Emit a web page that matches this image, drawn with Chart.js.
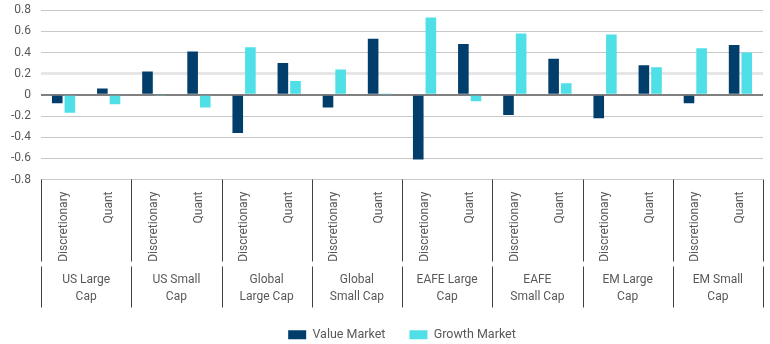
<!DOCTYPE html>
<html>
<head>
<meta charset="utf-8">
<script src="https://cdn.jsdelivr.net/npm/chart.js@4.4.1/dist/chart.umd.min.js"></script>
<style>
  html, body { margin: 0; padding: 0; background: #fff; }
  #wrap { width: 770px; height: 344px; }
</style>
</head>
<body>
<div id="wrap"><canvas id="chart"></canvas></div>
<script>
const groups = [
  ['US Large', 'Cap'], ['US Small', 'Cap'], ['Global', 'Large Cap'], ['Global', 'Small Cap'],
  ['EAFE Large', 'Cap'], ['EAFE', 'Small Cap'], ['EM Large', 'Cap'], ['EM Small', 'Cap']
];
const styles = ['Discretionary', 'Quant'];
const yTicks = [-0.8, -0.6, -0.4, -0.2, 0, 0.2, 0.4, 0.6, 0.8];
const valueMarket = [-0.08, 0.06, 0.22, 0.41, -0.36, 0.30, -0.12, 0.53, -0.61, 0.48, -0.19, 0.34, -0.22, 0.28, -0.08, 0.47];
const growthMarket = [-0.17, -0.09, -0.01, -0.12, 0.45, 0.13, 0.24, 0.005, 0.73, -0.06, 0.58, 0.11, 0.57, 0.26, 0.44, 0.40];

const categories = [];
groups.forEach(() => styles.forEach(s => categories.push(s)));

const textColor = '#595959';
const fontFamily = 'Roboto, "Noto Sans", sans-serif';

// second level of the x axis: group dividers and names
const groupAxis = {
  id: 'groupAxis',
  afterDraw(chart) {
    const { ctx, chartArea } = chart;
    const x = chart.scales.x;
    const step = (x.right - x.left) / categories.length;
    const top = chartArea.bottom;
    ctx.save();
    ctx.strokeStyle = '#404040';
    ctx.lineWidth = 1;
    for (let g = 0; g <= groups.length; g++) {
      const px = Math.round(x.left + g * styles.length * step) + 0.5;
      ctx.beginPath();
      ctx.moveTo(px, top);
      ctx.lineTo(px, top + 82);
      ctx.moveTo(px, top + 87);
      ctx.lineTo(px, top + 128);
      ctx.stroke();
    }
    ctx.fillStyle = textColor;
    ctx.font = '12px ' + fontFamily;
    ctx.textAlign = 'center';
    ctx.textBaseline = 'middle';
    groups.forEach((lines, g) => {
      const cx = x.left + (g + 0.5) * styles.length * step;
      lines.forEach((t, i) => ctx.fillText(t, cx, top + 100 + i * 17));
    });
    ctx.restore();
  }
};

const ctx = document.getElementById('chart').getContext('2d');
const chart = new Chart(ctx, {
  type: 'bar',
  data: {
    labels: categories,
    datasets: [{
      label: 'Value Market',
      data: valueMarket,
      backgroundColor: '#023e6b',
      categoryPercentage: 0.56,
      barPercentage: 0.84
    }, {
      label: 'Growth Market',
      data: growthMarket,
      backgroundColor: '#4fdfe7',
      categoryPercentage: 0.56,
      barPercentage: 0.84
    }]
  },
  options: {
    responsive: true,
    maintainAspectRatio: false,
    animation: false,
    layout: {
      padding: { top: 0, right: 7, bottom: -7, left: 0 }
    },
    scales: {
      x: {
        grid: { display: false },
        border: { display: false },
        ticks: {
          autoSkip: false,
          minRotation: 90,
          maxRotation: 90,
          padding: 4,
          color: textColor,
          font: { family: fontFamily, size: 12 }
        },
        afterFit(scale) {
          scale.height = 125;
        }
      },
      y: {
        min: -0.8,
        max: 0.8,
        border: { display: false },
        grid: {
          drawTicks: true,
          tickLength: 7,
          tickColor: 'rgba(0,0,0,0)',
          color: c => c.tick.value === 0 ? '#808080' : (Math.abs(c.tick.value - 0.2) < 1e-6 ? '#e6e6e6' : '#c8c8c8'),
          lineWidth: c => c.tick.value === 0 ? 2 : (Math.abs(c.tick.value - 0.2) < 1e-6 ? 3 : 1)
        },
        afterBuildTicks(scale) {
          scale.ticks = yTicks.map(v => ({ value: v }));
        },
        ticks: {
          padding: 3,
          color: textColor,
          font: { family: fontFamily, size: 12 },
          callback: v => v === 0 ? '0' : v.toFixed(1)
        },
        afterFit(scale) {
          scale.width = 41;
        }
      }
    },
    plugins: {
      legend: {
        position: 'bottom',
        fullSize: false,
        labels: {
          boxWidth: 18,
          boxHeight: 9,
          padding: 24,
          color: textColor,
          font: { family: fontFamily, size: 12.5 }
        }
      },
      tooltip: { enabled: false }
    }
  },
  plugins: [groupAxis]
});
</script>
</body>
</html>
